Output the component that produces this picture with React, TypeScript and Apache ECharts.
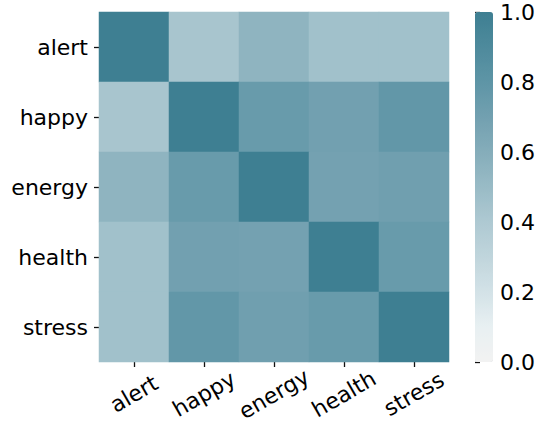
import React, { useEffect, useRef } from "react";
import * as echarts from "echarts";

const labels = ["alert", "happy", "energy", "health", "stress"];
const matrix = [
  [1.0, 0.43, 0.55, 0.46, 0.46],
  [0.43, 1.0, 0.75, 0.7, 0.78],
  [0.55, 0.75, 1.0, 0.69, 0.71],
  [0.46, 0.7, 0.69, 1.0, 0.75],
  [0.46, 0.78, 0.71, 0.75, 1.0],
];
const colorbarTicks = [0, 0.2, 0.4, 0.6, 0.8, 1.0];
const paletteStops = ["#f2f2f2", "#e8f0f2", "#d3e2e7", "#c0d5dc", "#aec9d2", "#99bbc6", "#85adba", "#72a0b0", "#5e95a6", "#4e8a9c", "#3e7f92"];

export default function App() {
  const ref = useRef<HTMLDivElement>(null);
  useEffect(() => {
    if (!ref.current) return;
    const chart = echarts.init(ref.current, undefined, { renderer: "svg" });
    const data: number[][] = [];
    matrix.forEach((row, i) => row.forEach((v, j) => data.push([j, i, v])));
    const font = "DejaVu Sans";
    const fs = 22;
    chart.setOption({
      animation: false,
      backgroundColor: "#ffffff",
      grid: [
        { left: 99, top: 12, width: 350, height: 350 },
        { left: 475, top: 12, width: 18, height: 350 },
      ],
      xAxis: [
        {
          type: "category",
          data: labels,
          gridIndex: 0,
          axisLine: { show: false },
          axisTick: { show: true, length: 5, alignWithLabel: true, lineStyle: { color: "#111", width: 1.3 } },
          axisLabel: {
            rotate: 30,
            align: "center",
            verticalAlign: "middle",
            margin: 32,
            fontSize: fs,
            fontFamily: font,
            color: "#000",
          },
          splitLine: { show: false },
        },
        { type: "value", gridIndex: 1, show: false, min: 0, max: 1 },
      ],
      yAxis: [
        {
          type: "category",
          data: labels,
          inverse: true,
          gridIndex: 0,
          axisLine: { show: false },
          axisTick: { show: true, length: 5, alignWithLabel: true, lineStyle: { color: "#111", width: 1.3 } },
          axisLabel: { margin: 11, fontSize: fs, fontFamily: font, color: "#000" },
          splitLine: { show: false },
        },
        {
          type: "value",
          gridIndex: 1,
          min: 0,
          max: 1,
          interval: 0.2,
          position: "right",
          axisLine: { show: false },
          axisTick: { show: true, length: 5, lineStyle: { color: "#111", width: 1.3 } },
          axisLabel: {
            margin: 7,
            fontSize: fs,
            fontFamily: font,
            color: "#000",
            formatter: (v: number) => v.toFixed(1),
          },
          splitLine: { show: false },
        },
      ],
      visualMap: {
        type: "continuous",
        min: colorbarTicks[0],
        max: colorbarTicks[colorbarTicks.length - 1],
        seriesIndex: 0,
        show: true,
        calculable: false,
        left: 475,
        top: 12,
        itemWidth: 18,
        itemHeight: 350,
        padding: 0,
        text: null,
        showLabel: false,
        inRange: { color: paletteStops },
      },
      series: [
        {
          type: "heatmap",
          xAxisIndex: 0,
          yAxisIndex: 0,
          data,
          itemStyle: { borderWidth: 0 },
          emphasis: { disabled: true },
        },
      ],
    });
    return () => chart.dispose();
  }, []);
  return <div ref={ref} style={{ width: 542, height: 429, position: "absolute", left: 0, top: 0 }} />;
}
